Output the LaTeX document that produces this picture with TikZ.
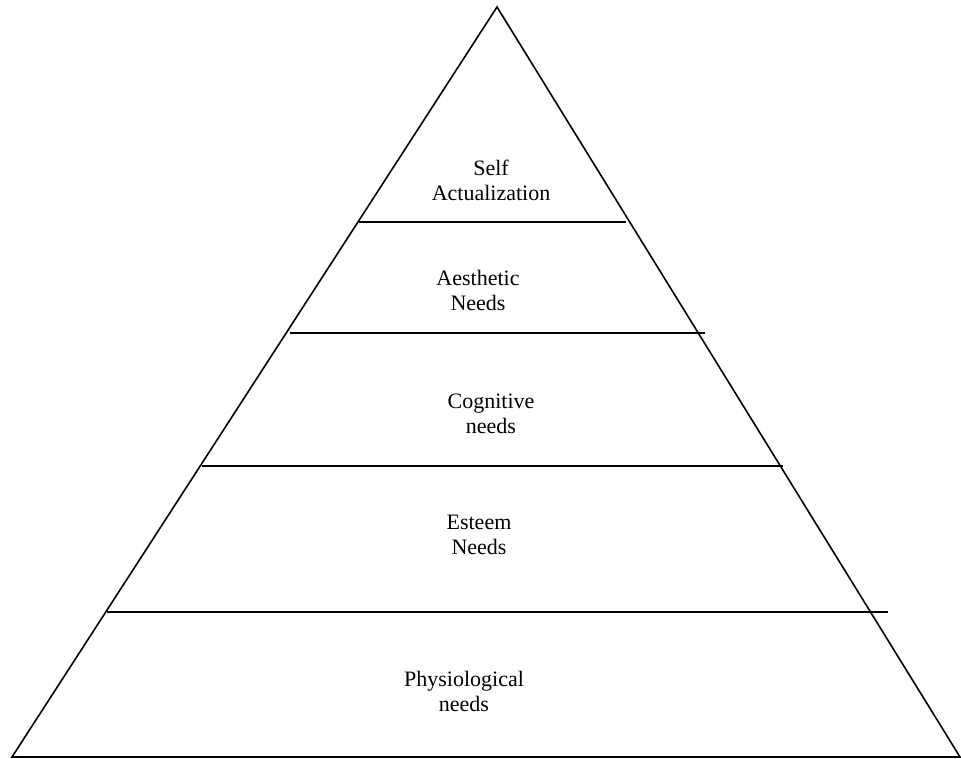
\documentclass[tikz,border=0pt]{standalone}
\usepackage{fontspec}
\setmainfont{Liberation Serif}
\begin{document}
\begin{tikzpicture}[x=1pt,y=-1pt,
  edge/.style={line width=1.6pt, black},
  tier/.style={line width=1.6pt, black},
  lbl/.style={align=center, inner sep=0pt, font=\fontsize{22}{25}\selectfont}]
\useasboundingbox (0,0) rectangle (961,759);
\coordinate (apex) at (497,7);
\coordinate (bl) at (12,757);
\coordinate (br) at (960,757);
\draw[edge, line join=miter] (bl) -- (apex) -- (br) -- cycle;
\coordinate (l1a) at (359,222); \coordinate (l1b) at (626,222);
\coordinate (l2a) at (290,333); \coordinate (l2b) at (705,333);
\coordinate (l3a) at (202,466); \coordinate (l3b) at (783,466);
\coordinate (l4a) at (107,612); \coordinate (l4b) at (888,612);
\draw[tier] (l1a) -- (l1b);
\draw[tier] (l2a) -- (l2b);
\draw[tier] (l3a) -- (l3b);
\draw[tier] (l4a) -- (l4b);
\node[lbl] (self) at (491,180) {Self\\Actualization};
\node[lbl] (aes) at (478,290) {Aesthetic\\Needs};
\node[lbl] (cog) at (491,414) {Cognitive\\needs};
\node[lbl] (est) at (479,535) {Esteem\\Needs};
\node[lbl] (phy) at (464,691) {Physiological\\needs};
\end{tikzpicture}
\end{document}
